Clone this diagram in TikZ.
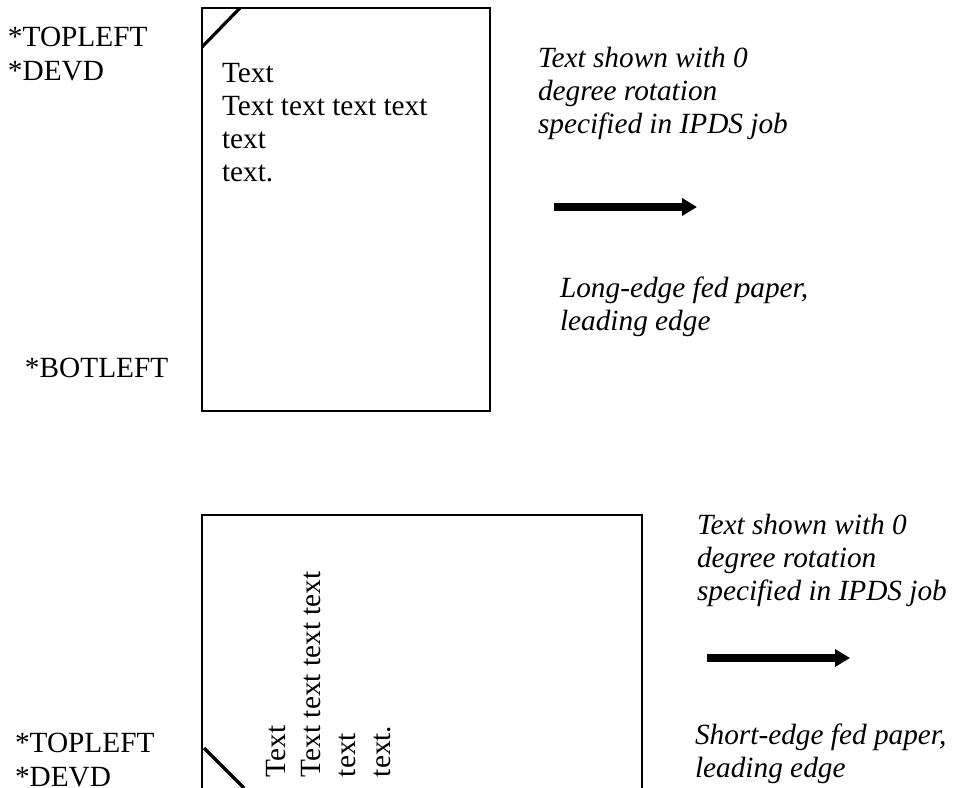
\documentclass[tikz,border=0pt]{standalone}
\usepackage{fontspec}
\setmainfont{Liberation Serif}
\usepackage{tikz}
\usetikzlibrary{
  arrows.meta}

\begin{document}
\begin{tikzpicture}[
  x=0.5pt, y=-0.5pt,
  every node/.style={inner sep=0pt, outer sep=0pt, align=left, anchor=base west,
    font=\fontsize{14.65}{17}\selectfont},
  sheet/.style={draw, line width=1pt},
  corner/.style={line width=1.6pt},
  note/.style={font=\fontsize{14.65}{16.5}\selectfont\itshape},
  feed/.style={line width=4pt, -{Triangle[length=7.5pt,width=8.5pt]}},
]
\useasboundingbox (0,0) rectangle (956,787);
\clip (0,0) rectangle (956,787);
% long-edge fed sheet (base of a node = its last line)
\draw[sheet] (202,8) rectangle (490,411);
\draw[corner] (202,47) -- (240,8);
\node (tlA) at (8,80) {*TOPLEFT\\*DEVD};
\node (blA) at (25,377) {*BOTLEFT};
\node[font=\fontsize{14.65}{16.5}\selectfont] (txtA) at (222,181)
  {Text\\Text text text text\\text\\text.};
\node[note] (noteA) at (538,133) {Text shown with 0\\degree rotation\\specified in IPDS job};
\coordinate (fromA) at (554,207);
\coordinate (toA) at (697,207);
\draw[feed] (fromA) -- (toA);
\node[note] (feedA) at (560,330) {Long-edge fed paper,\\leading edge};
% short-edge fed sheet
\draw[sheet] (202,515) rectangle (642,900);
\draw[corner] (204,748) -- (244,788);
\node (tlB) at (15,786) {*TOPLEFT\\*DEVD};
\node[rotate=90, font=\fontsize{14.65}{17.5}\selectfont] (txtB) at (390,777)
  {Text\\Text text text text\\text\\text.};
\node[note] (noteB) at (697,600) {Text shown with 0\\degree rotation\\specified in IPDS job};
\coordinate (fromB) at (707,658);
\coordinate (toB) at (850,658);
\draw[feed] (fromB) -- (toB);
\node[note] (feedB) at (695,777) {Short-edge fed paper,\\leading edge};
\end{tikzpicture}
\end{document}
